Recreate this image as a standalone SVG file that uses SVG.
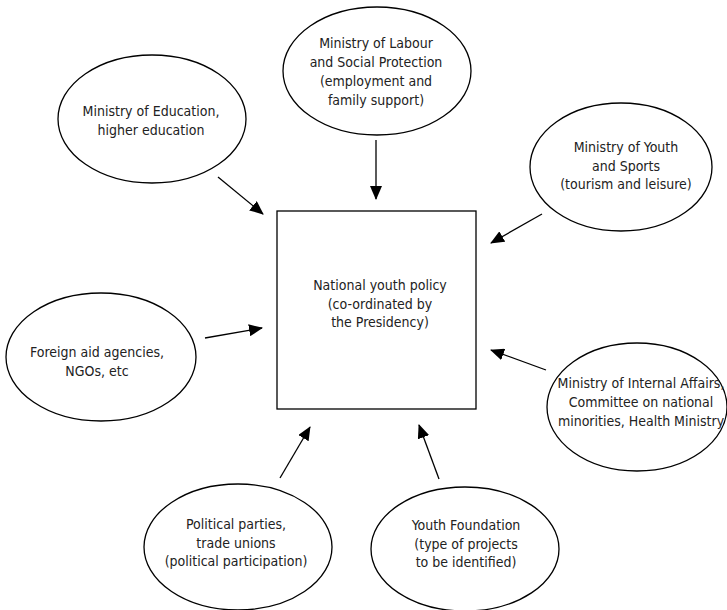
<svg xmlns="http://www.w3.org/2000/svg" width="727" height="610" viewBox="0 0 727 610">
<style>
.n{fill:#fff;stroke:#000;stroke-width:1.3}
.t{font-family:"Liberation Sans Narrow","DejaVu Sans Condensed","Liberation Sans",sans-serif;font-size:14px;fill:#222;text-anchor:middle}
.c{stroke:#000;stroke-width:1.3;fill:none;marker-end:url(#ah)}
</style>
<defs>
<marker id="ah" viewBox="0 0 14 12" refX="13" refY="6" markerWidth="14" markerHeight="12" markerUnits="userSpaceOnUse" orient="auto">
<path d="M0,0 L14,6 L0,12 Z" fill="#000"/>
</marker>
</defs>
<rect width="727" height="610" fill="#fff"/>
<g id="connectors">
<line class="c" x1="218" y1="177" x2="263" y2="214"/>
<line class="c" x1="376" y1="140" x2="376" y2="199"/>
<line class="c" x1="542" y1="214" x2="491" y2="243"/>
<line class="c" x1="205" y1="338" x2="262" y2="328"/>
<line class="c" x1="546" y1="370" x2="491" y2="350"/>
<line class="c" x1="280" y1="478" x2="310" y2="427"/>
<line class="c" x1="439" y1="479" x2="419" y2="425"/>
</g>
<g id="center">
<rect class="n" x="277" y="211" width="199" height="198"/>
<text class="t" x="380" y="290">National youth policy</text>
<text class="t" x="380" y="309">(co-ordinated by</text>
<text class="t" x="380" y="327">the Presidency)</text>
</g>
<g id="education">
<ellipse class="n" cx="152" cy="119" rx="94" ry="64"/>
<text class="t" x="151" y="116">Ministry of Education,</text>
<text class="t" x="151" y="135">higher education</text>
</g>
<g id="labour">
<ellipse class="n" cx="377" cy="71" rx="94" ry="64"/>
<text class="t" x="376" y="48">Ministry of Labour</text>
<text class="t" x="376" y="67">and Social Protection</text>
<text class="t" x="376" y="86">(employment and</text>
<text class="t" x="376" y="105">family support)</text>
</g>
<g id="youth-sports">
<ellipse class="n" cx="621" cy="167" rx="91" ry="64"/>
<text class="t" x="626" y="152">Ministry of Youth</text>
<text class="t" x="626" y="171">and Sports</text>
<text class="t" x="626" y="189">(tourism and leisure)</text>
</g>
<g id="foreign">
<ellipse class="n" cx="101" cy="357" rx="95" ry="64"/>
<text class="t" x="97" y="357">Foreign aid agencies,</text>
<text class="t" x="97" y="376">NGOs, etc</text>
</g>
<g id="internal">
<ellipse class="n" cx="637" cy="407" rx="90" ry="64"/>
<text class="t" x="641" y="388">Ministry of Internal Affairs,</text>
<text class="t" x="641" y="407">Committee on national</text>
<text class="t" x="641" y="426">minorities, Health Ministry</text>
</g>
<g id="political">
<ellipse class="n" cx="238" cy="547" rx="94" ry="63"/>
<text class="t" x="236" y="529">Political parties,</text>
<text class="t" x="236" y="548">trade unions</text>
<text class="t" x="236" y="566">(political participation)</text>
</g>
<g id="youth-foundation">
<ellipse class="n" cx="465" cy="549" rx="94" ry="62"/>
<text class="t" x="466" y="530">Youth Foundation</text>
<text class="t" x="466" y="549">(type of projects</text>
<text class="t" x="466" y="567">to be identified)</text>
</g>
</svg>
